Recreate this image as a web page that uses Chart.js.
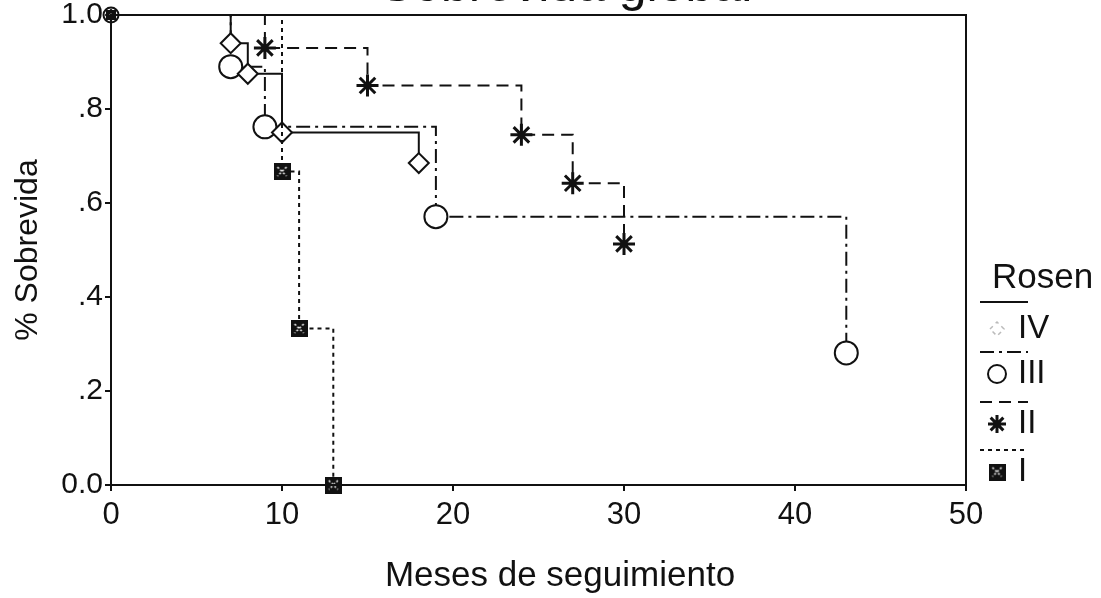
<!DOCTYPE html>
<html>
<head>
<meta charset="utf-8">
<script src="https://cdn.jsdelivr.net/npm/chart.js@4.4.1/dist/chart.umd.min.js"></script>
<style>
html, body { margin: 0; padding: 0; background: #fff; overflow: hidden; }
canvas { display: block; }
</style>
</head>
<body>
<canvas id="myChart" width="1101" height="598"></canvas>
<script>
// datos (Kaplan-Meier por estadio de Rosen)
const titulo = 'Sobrevida global'
const tituloX = 'Meses de seguimiento'
const tituloY = '% Sobrevida'
const tituloLeyenda = 'Rosen'
const grupos = ['IV', 'III', 'II', 'I']

const mesesIV = [0, 7, 8, 10, 18]
const sobrevidaIV = [1.0, 0.94, 0.875, 0.75, 0.685]
const mesesIII = [0, 7, 9, 19, 43]
const sobrevidaIII = [1.0, 0.89, 0.762, 0.571, 0.281]
const mesesII = [0, 9, 15, 24, 27, 30]
const sobrevidaII = [1.0, 0.93, 0.85, 0.745, 0.642, 0.513]
const mesesI = [0, 10, 11, 13]
const sobrevidaI = [1.0, 0.667, 0.333, 0.0]

const ticksX = [0, 10, 20, 30, 40, 50]
const ticksY = ['0.0', '.2', '.4', '.6', '.8', '1.0']

const negro = '#111'
const fuente = "'Liberation Sans', Arial, sans-serif"

function puntos(meses, valores) {
    return meses.map((m, i) => ({ x: m, y: valores[i] }))
}

// cuadrado negro con una cruz clara (simbolo del grupo I)
function cuadradoX(lado) {
    const c = document.createElement('canvas')
    c.width = lado
    c.height = lado
    const g = c.getContext('2d')
    g.fillStyle = negro
    g.fillRect(0, 0, lado, lado)
    g.strokeStyle = '#fff'
    g.lineWidth = 1.5
    g.setLineDash([2, 2])
    g.beginPath()
    g.moveTo(4, 4); g.lineTo(lado - 4, lado - 4)
    g.moveTo(lado - 4, 4); g.lineTo(4, lado - 4)
    g.stroke()
    return c
}
const simboloI = cuadradoX(17)
const simboloIChico = cuadradoX(10)

// el primer punto (tiempo 0) se dibuja mas chico, todos superpuestos
const radioInicio = (r, r0) => (ctx) => ctx.dataIndex === 0 ? r0 : r

const data = {
    datasets: [{
        label: grupos[0],
        data: puntos(mesesIV, sobrevidaIV),
        borderDash: [],
        pointStyle: 'rectRot',
        pointRadius: radioInicio(10, 5),
        order: 3
    }, {
        label: grupos[1],
        data: puntos(mesesIII, sobrevidaIII),
        borderDash: [14, 5, 3, 5],
        pointStyle: 'circle',
        pointRadius: radioInicio(11.5, 7.5),
        order: 4
    }, {
        label: grupos[2],
        data: puntos(mesesII, sobrevidaII),
        borderDash: [12, 7],
        pointStyle: 'star',
        pointRadius: radioInicio(11, 5),
        pointBorderWidth: 3,
        order: 2
    }, {
        label: grupos[3],
        data: puntos(mesesI, sobrevidaI),
        borderDash: [4, 4],
        pointStyle: (ctx) => ctx.dataIndex === 0 ? simboloIChico : simboloI,
        pointRadius: 9,
        order: 1
    }]
}
data.datasets.forEach(d => {
    d.stepped = true
    d.borderColor = negro
    d.borderWidth = 2
    d.pointBackgroundColor = '#fff'
    d.pointBorderColor = negro
    if (d.pointBorderWidth === undefined) d.pointBorderWidth = 2
    d.pointHoverRadius = 0
    d.fill = false
    d.clip = false
})

// textos de titulo, eje X, marco y leyenda
const textos = {
    id: 'textos',
    afterDraw(chart) {
        const ctx = chart.ctx
        const a = chart.chartArea
        ctx.save()
        ctx.strokeStyle = negro
        ctx.lineWidth = 2
        ctx.strokeRect(a.left, a.top, a.right - a.left, a.bottom - a.top)

        ctx.fillStyle = negro
        ctx.textAlign = 'center'
        ctx.textBaseline = 'alphabetic'
        ctx.font = '50px ' + fuente
        ctx.fillText(titulo, 566, 1)
        ctx.font = '35px ' + fuente
        ctx.fillText(tituloX, 560, 586)

        ctx.textAlign = 'left'
        ctx.font = '35px ' + fuente
        ctx.fillText(tituloLeyenda, 992, 288)

        const lineasY = [302, 352, 402, 450]
        const simbolosY = [329, 374, 424, 472]
        chart.data.datasets.forEach((d, i) => {
            ctx.save()
            ctx.strokeStyle = negro
            ctx.lineWidth = 2
            ctx.setLineDash(d.borderDash)
            ctx.beginPath()
            ctx.moveTo(980, lineasY[i])
            ctx.lineTo(1028, lineasY[i])
            ctx.stroke()
            ctx.restore()

            ctx.save()
            if (i === 0) {
                ctx.strokeStyle = '#bbb'
                ctx.setLineDash([4, 4])
                ctx.lineWidth = 1.5
            } else {
                ctx.strokeStyle = negro
                ctx.lineWidth = i === 2 ? 3 : 2
            }
            ctx.fillStyle = '#fff'
            Chart.helpers.drawPoint(ctx, {
                pointStyle: i === 3 ? simboloI : d.pointStyle,
                radius: i === 0 ? 7 : 9,
                rotation: 0,
                borderWidth: ctx.lineWidth
            }, 997, simbolosY[i])
            ctx.restore()

            ctx.font = '33px ' + fuente
            ctx.textBaseline = 'middle'
            ctx.fillText(d.label, 1018, simbolosY[i])
        })
        ctx.restore()
    }
}

const config = {
    type: 'line',
    data: data,
    options: {
        responsive: false,
        animation: false,
        devicePixelRatio: 1,
        layout: { padding: { left: 0, right: 135, top: 15, bottom: 0 } },
        plugins: {
            legend: { display: false },
            tooltip: { enabled: false }
        },
        scales: {
            x: {
                type: 'linear',
                min: 0,
                max: 50,
                afterBuildTicks: s => { s.ticks = ticksX.map(v => ({ value: v })) },
                ticks: { color: negro, font: { family: fuente, size: 31 }, padding: 6, maxRotation: 0 },
                grid: { display: true, drawOnChartArea: false, drawTicks: true, tickLength: 6, color: negro, lineWidth: 2 },
                border: { display: true, color: negro, width: 2 },
                afterFit: s => { s.height = 113; s.paddingLeft = 0; s.paddingRight = 0 }
            },
            y: {
                type: 'linear',
                min: 0,
                max: 1,
                ticks: {
                    stepSize: 0.2,
                    color: negro,
                    font: { family: fuente, size: 30 },
                    padding: 2,
                    callback: (v, i) => ticksY[i]
                },
                grid: { display: true, drawOnChartArea: false, drawTicks: true, tickLength: 6, color: negro, lineWidth: 2 },
                border: { display: true, color: negro, width: 2 },
                title: {
                    display: true,
                    text: tituloY,
                    color: negro,
                    font: { family: fuente, size: 32 },
                    padding: { top: 9, bottom: 0 }
                },
                afterFit: s => { s.width = 111; s.paddingTop = 0; s.paddingBottom = 0 }
            }
        }
    },
    plugins: [textos]
}

const ctx = document.getElementById('myChart').getContext('2d')
new Chart(ctx, config)
</script>
</body>
</html>
